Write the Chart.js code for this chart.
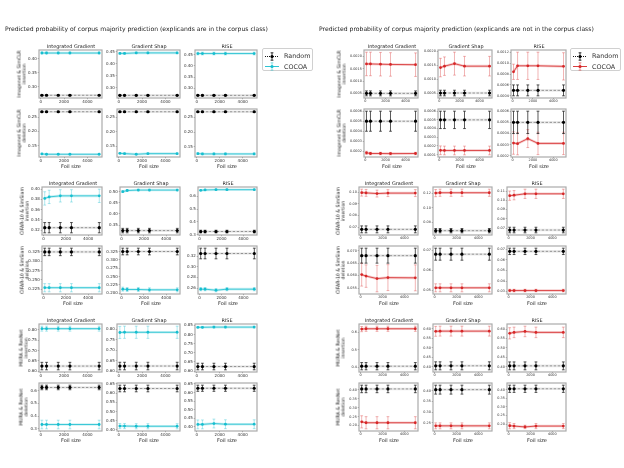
<!DOCTYPE html>
<html>
<head>
<meta charset="utf-8">
<script src="https://cdn.jsdelivr.net/npm/chart.js@4.4.1/dist/chart.umd.min.js"></script>
<style>
  html, body { margin: 0; padding: 0; background: #fff; }
  #page { position: relative; width: 624px; height: 468px; overflow: hidden; font-family: 'DejaVu Sans', sans-serif; color: #222; }
  #page canvas { position: absolute; }
  .txt { position: absolute; white-space: nowrap; line-height: 1; color: #222; will-change: transform; }
  .title { font-size: 6.1px; transform: translateY(-50%); }
  .coltitle { font-size: 4.9px; transform: translate(-50%, -50%); }
  .xlabel { font-size: 5px; transform: translate(-50%, -50%); }
  .ylabel { font-size: 4.7px; color: #111; text-align: center; line-height: 1.15; transform: translate(-50%, -50%) rotate(-90deg); }
  .legend { position: absolute; width: 51px; height: 23px; box-sizing: border-box; border: 0.8px solid #d0d0d0; border-radius: 2px; background: #fff; font-size: 6.4px; color: #333; will-change: transform; }
  .lrow { position: absolute; left: 1px; height: 9px; display: flex; align-items: center; }
  .lrow span { margin-left: 4px; color: #333; }
</style>
</head>
<body>
<div id="page"></div>
<script>
const foilSizes = [100, 500, 1500, 2500, 5000];
const xTicks = [0, 2000, 4000];
const methods = ['Integrated Gradient', 'Gradient Shap', 'RISE'];
const setups = ['Imagenet & SimCLR', 'CIFAR-10 & SimSiam', 'MURA & ResNet'];
const metrics = ['insertion', 'deletion'];
const seriesNames = ['Random', 'COCOA'];
const panelTitles = [
  'Predicted probability of corpus majority prediction (explicands are in the corpus class)',
  'Predicted probability of corpus majority prediction (explicands are not in the corpus class)'
];

// ---- explicands in the corpus class ----
const inImgRandom = [0.269, 0.269, 0.269, 0.269, 0.269];
const inImgRandomErr = [0.002, 0.002, 0.002, 0.002, 0.002];
const inImgInsCocoa = [
  [0.420, 0.420, 0.420, 0.420, 0.420],
  [0.443, 0.443, 0.445, 0.445, 0.445],
  [0.455, 0.455, 0.455, 0.455, 0.455]
];
const inImgInsCocoaErr = [
  [0.003, 0.003, 0.003, 0.003, 0.003],
  [0.003, 0.003, 0.003, 0.003, 0.003],
  [0.006, 0.006, 0.006, 0.006, 0.006]
];
const inImgInsSteps = [0.05, 0.05, 0.05];
const inImgDelCocoa = [
  [0.120, 0.119, 0.119, 0.119, 0.119],
  [0.126, 0.125, 0.123, 0.125, 0.125],
  [0.127, 0.126, 0.126, 0.126, 0.126]
];
const inImgDelCocoaErr = [
  [0.002, 0.002, 0.002, 0.002, 0.002],
  [0.002, 0.002, 0.002, 0.002, 0.002],
  [0.003, 0.003, 0.003, 0.003, 0.003]
];
const inImgDelSteps = [0.05, 0.05, 0.05];

const inCifarRandom = [0.325, 0.325, 0.325, 0.325, 0.325];
const inCifarRandomErr = [0.010, 0.010, 0.010, 0.010, 0.010];
const inCifarInsCocoa = [
  [0.382, 0.385, 0.387, 0.387, 0.387],
  [0.500, 0.505, 0.507, 0.507, 0.507],
  [0.645, 0.648, 0.650, 0.650, 0.650]
];
const inCifarInsCocoaErr = [
  [0.013, 0.013, 0.012, 0.012, 0.013],
  [0.004, 0.004, 0.004, 0.004, 0.004],
  [0.004, 0.004, 0.004, 0.004, 0.004]
];
const inCifarInsSteps = [0.02, 0.05, 0.1];
const inCifarDelCocoa = [
  [0.229, 0.229, 0.229, 0.229, 0.229],
  [0.212, 0.211, 0.211, 0.210, 0.210],
  [0.258, 0.258, 0.256, 0.258, 0.258]
];
const inCifarDelCocoaErr = [
  [0.011, 0.011, 0.011, 0.011, 0.011],
  [0.006, 0.006, 0.006, 0.006, 0.006],
  [0.003, 0.003, 0.003, 0.003, 0.003]
];
const inCifarDelSteps = [0.025, 0.025, 0.02];

const inMuraRandom = [0.625, 0.625, 0.625, 0.625, 0.625];
const inMuraRandomErr = [0.018, 0.018, 0.018, 0.018, 0.018];
const inMuraInsCocoa = [
  [0.805, 0.805, 0.805, 0.805, 0.805],
  [0.785, 0.786, 0.786, 0.786, 0.786],
  [0.840, 0.840, 0.841, 0.841, 0.841]
];
const inMuraInsCocoaErr = [
  [0.012, 0.012, 0.012, 0.012, 0.012],
  [0.029, 0.029, 0.029, 0.029, 0.029],
  [0.005, 0.005, 0.005, 0.005, 0.005]
];
const inMuraInsSteps = [0.05, 0.05, 0.05];
const inMuraDelCocoa = [
  [0.333, 0.333, 0.333, 0.333, 0.333],
  [0.421, 0.421, 0.420, 0.420, 0.420],
  [0.413, 0.413, 0.418, 0.414, 0.414]
];
const inMuraDelCocoaErr = [
  [0.034, 0.034, 0.034, 0.034, 0.034],
  [0.014, 0.014, 0.014, 0.014, 0.014],
  [0.026, 0.026, 0.026, 0.026, 0.026]
];
const inMuraDelSteps = [0.1, 0.05, 0.05];

// ---- explicands not in the corpus class ----
const outImgRandom = [0.0005, 0.0005, 0.0005, 0.0005, 0.0005];
const outImgRandomErr = [0.0001, 0.0001, 0.0001, 0.0001, 0.0001];
const outImgInsCocoa = [
  [0.00170, 0.00170, 0.00169, 0.00168, 0.00167],
  [0.00141, 0.00146, 0.00155, 0.00146, 0.00146],
  [0.00084, 0.00095, 0.00095, 0.00095, 0.00094]
];
const outImgInsCocoaErr = [
  [0.00048, 0.00048, 0.00048, 0.00048, 0.00048],
  [0.00033, 0.00033, 0.00041, 0.00035, 0.00035],
  [0.00014, 0.00025, 0.00025, 0.00025, 0.00025]
];
const outImgInsSteps = [0.0005, 0.0005, 0.0002];
const outImgDelCocoa = [
  [0.000185, 0.000178, 0.000178, 0.000177, 0.000178],
  [0.000150, 0.000148, 0.000148, 0.000148, 0.000148],
  [0.000315, 0.000310, 0.000355, 0.000312, 0.000312]
];
const outImgDelCocoaErr = [
  [0.000015, 0.000012, 0.000012, 0.000012, 0.000012],
  [0.00005, 0.00005, 0.00005, 0.00005, 0.00005],
  [0.0001, 0.0001, 0.00008, 0.0001, 0.0001]
];
const outImgDelSteps = [0.0001, 0.0001, 0.0001];

const outCifarRandom = [0.068, 0.068, 0.068, 0.068, 0.068];
const outCifarRandomErr = [0.003, 0.003, 0.003, 0.003, 0.003];
const outCifarInsCocoa = [
  [0.0998, 0.0996, 0.0990, 0.0994, 0.0994],
  [0.1205, 0.1210, 0.1210, 0.1210, 0.1210],
  [0.1050, 0.1055, 0.1070, 0.1070, 0.1070]
];
const outCifarInsCocoaErr = [
  [0.003, 0.003, 0.003, 0.003, 0.003],
  [0.005, 0.005, 0.005, 0.005, 0.005],
  [0.005, 0.005, 0.005, 0.005, 0.005]
];
const outCifarInsSteps = [0.01, 0.02, 0.01];
const outCifarDelCocoa = [
  [0.0604, 0.0598, 0.0588, 0.0592, 0.0591],
  [0.0512, 0.0512, 0.0512, 0.0512, 0.0512],
  [0.0310, 0.0310, 0.0310, 0.0310, 0.0310]
];
const outCifarDelCocoaErr = [
  [0.0046, 0.0045, 0.0053, 0.0052, 0.0052],
  [0.0020, 0.0020, 0.0020, 0.0020, 0.0020],
  [0.0012, 0.0012, 0.0012, 0.0012, 0.0012]
];
const outCifarDelSteps = [0.005, 0.01, 0.01];

const outMuraRandom = [0.405, 0.405, 0.405, 0.405, 0.405];
const outMuraRandomErr = [0.021, 0.021, 0.021, 0.021, 0.021];
const outMuraInsCocoa = [
  [0.620, 0.622, 0.622, 0.622, 0.622],
  [0.586, 0.587, 0.587, 0.587, 0.587],
  [0.578, 0.583, 0.588, 0.583, 0.583]
];
const outMuraInsCocoaErr = [
  [0.015, 0.015, 0.015, 0.015, 0.015],
  [0.026, 0.026, 0.026, 0.026, 0.026],
  [0.030, 0.028, 0.028, 0.028, 0.028]
];
const outMuraInsSteps = [0.1, 0.05, 0.05];
const outMuraDelCocoa = [
  [0.221, 0.216, 0.216, 0.216, 0.216],
  [0.235, 0.235, 0.235, 0.235, 0.235],
  [0.190, 0.188, 0.183, 0.188, 0.188]
];
const outMuraDelCocoaErr = [
  [0.034, 0.034, 0.034, 0.034, 0.034],
  [0.014, 0.014, 0.014, 0.014, 0.014],
  [0.018, 0.015, 0.010, 0.015, 0.015]
];
const outMuraDelSteps = [0.05, 0.05, 0.05];

// rows per panel: [setup][metric] -> random, randomErr, cocoa, cocoaErr, steps
const inRows = [
  [[inImgRandom, inImgRandomErr, inImgInsCocoa, inImgInsCocoaErr, inImgInsSteps],
   [inImgRandom, inImgRandomErr, inImgDelCocoa, inImgDelCocoaErr, inImgDelSteps]],
  [[inCifarRandom, inCifarRandomErr, inCifarInsCocoa, inCifarInsCocoaErr, inCifarInsSteps],
   [inCifarRandom, inCifarRandomErr, inCifarDelCocoa, inCifarDelCocoaErr, inCifarDelSteps]],
  [[inMuraRandom, inMuraRandomErr, inMuraInsCocoa, inMuraInsCocoaErr, inMuraInsSteps],
   [inMuraRandom, inMuraRandomErr, inMuraDelCocoa, inMuraDelCocoaErr, inMuraDelSteps]]
];
const outRows = [
  [[outImgRandom, outImgRandomErr, outImgInsCocoa, outImgInsCocoaErr, outImgInsSteps],
   [outImgRandom, outImgRandomErr, outImgDelCocoa, outImgDelCocoaErr, outImgDelSteps]],
  [[outCifarRandom, outCifarRandomErr, outCifarInsCocoa, outCifarInsCocoaErr, outCifarInsSteps],
   [outCifarRandom, outCifarRandomErr, outCifarDelCocoa, outCifarDelCocoaErr, outCifarDelSteps]],
  [[outMuraRandom, outMuraRandomErr, outMuraInsCocoa, outMuraInsCocoaErr, outMuraInsSteps],
   [outMuraRandom, outMuraRandomErr, outMuraDelCocoa, outMuraDelCocoaErr, outMuraDelSteps]]
];

// layout of the two panels (pixels)
const groupTops = [49, 186, 323];
const rowOffset = 59, plotH = 49;
const panels = [
  { rows: inRows, color: [23, 190, 207], titleX: 5, legendX: 262, tickSize: 4.0,
    lefts: [[39, 117, 195], [42, 120, 198], [39, 117, 195]], rights: [103, 181, 258],
    ylabelX: [22, 25, 24] },
  { rows: outRows, color: [214, 39, 40], titleX: 319, legendX: 570, tickSize: 3.4,
    lefts: [[364, 438, 511], [359, 433, 507], [359, 433, 507]], rights: [419, 493, 567],
    ylabelX: [342, 341, 341] }
];

const page = document.getElementById('page');

function rgba(c, a) { return `rgba(${c[0]}, ${c[1]}, ${c[2]}, ${a})`; }
function padRange(lo, hi) { const m = (hi - lo) * 0.05; return [lo - m, hi + m]; }
function decimalsOf(step) { const s = String(step); return s.includes('.') ? s.split('.')[1].length : 0; }
function points(values) { return values.map((v, i) => ({ x: foilSizes[i], y: v })); }

function addText(cls, text, x, y) {
  const el = document.createElement('div');
  el.className = 'txt ' + cls;
  el.innerHTML = text;
  el.style.left = x + 'px';
  el.style.top = y + 'px';
  page.appendChild(el);
  return el;
}

const errorBars = {
  id: 'errorBars',
  beforeDatasetsDraw(chart) {
    const ctx = chart.ctx, ys = chart.scales.y, cap = 1.4;
    chart.data.datasets.forEach((ds, i) => {
      if (!ds.errors) return;
      const meta = chart.getDatasetMeta(i);
      ctx.save();
      ctx.strokeStyle = ds.errColor;
      ctx.lineWidth = 0.7;
      meta.data.forEach((pt, j) => {
        const v = ds.data[j].y, e = ds.errors[j];
        const top = ys.getPixelForValue(v + e), bot = ys.getPixelForValue(v - e);
        ctx.beginPath();
        ctx.moveTo(pt.x, top); ctx.lineTo(pt.x, bot);
        ctx.moveTo(pt.x - cap, top); ctx.lineTo(pt.x + cap, top);
        ctx.moveTo(pt.x - cap, bot); ctx.lineTo(pt.x + cap, bot);
        ctx.stroke();
      });
      ctx.restore();
    });
  }
};

const frame = {
  id: 'frame',
  afterDraw(chart) {
    const a = chart.chartArea, ctx = chart.ctx;
    ctx.save();
    ctx.strokeStyle = '#ababab';
    ctx.lineWidth = 1.2;
    ctx.strokeRect(a.left, a.top, a.right - a.left, a.bottom - a.top);
    ctx.restore();
  }
};

function addSubplot(left, top, width, random, randomErr, cocoa, cocoaErr, step, color, tickSize) {
  const yw = 26, pad = 3, xh = 8;
  const cw = width + yw + pad, ch = plotH + pad + xh;
  const canvas = document.createElement('canvas');
  canvas.style.left = (left - yw) + 'px';
  canvas.style.top = (top - pad) + 'px';
  canvas.style.width = cw + 'px';
  canvas.style.height = ch + 'px';
  canvas.width = cw; canvas.height = ch;
  page.appendChild(canvas);

  const lows = [], highs = [];
  random.forEach((v, i) => { lows.push(v - randomErr[i]); highs.push(v + randomErr[i]); });
  cocoa.forEach((v, i) => { lows.push(v - cocoaErr[i]); highs.push(v + cocoaErr[i]); });
  const [yMin, yMax] = padRange(Math.min(...lows), Math.max(...highs));
  const [xMin, xMax] = padRange(foilSizes[0], foilSizes[foilSizes.length - 1]);
  const dec = decimalsOf(step);

  const fitScale = (size) => (s) => {
    if (s.isHorizontal()) s.height = size; else s.width = size;
    s.paddingLeft = s.paddingRight = s.paddingTop = s.paddingBottom = 0;
  };
  const tickFont = { family: 'DejaVu Sans', size: tickSize };

  new Chart(canvas, {
    type: 'line',
    data: {
      datasets: [
        { label: 'COCOA', data: points(cocoa), order: 0, borderColor: rgba(color, 1), borderWidth: 0.8,
          pointRadius: 1.4, pointBorderWidth: 0, pointBackgroundColor: rgba(color, 1),
          errors: cocoaErr, errColor: rgba(color, 0.5) },
        { label: 'Random', data: points(random), order: 1, borderColor: 'rgba(0, 0, 0, 0.55)', borderWidth: 0.7,
          borderDash: [2.5, 1.5], pointRadius: 1.6, pointBorderWidth: 0, pointBackgroundColor: '#000',
          errors: randomErr, errColor: '#111' },
        { label: 'COCOA band', data: points(cocoa), order: 2, borderColor: rgba(color, 0.22),
          borderWidth: 2.6, pointRadius: 0 },
        { label: 'Random band', data: points(random), order: 3, borderColor: 'rgba(0, 0, 0, 0.08)',
          borderWidth: 2.6, pointRadius: 0 }
      ]
    },
    options: {
      responsive: false,
      animation: false,
      events: [],
      layout: { padding: { top: pad, right: pad, left: 0, bottom: 0 } },
      plugins: { legend: { display: false }, tooltip: { enabled: false } },
      scales: {
        x: {
          type: 'linear', min: xMin, max: xMax,
          afterBuildTicks: (s) => { s.ticks = xTicks.map(v => ({ value: v })); },
          afterFit: fitScale(xh),
          ticks: { font: tickFont, color: '#333', padding: 0, maxRotation: 0, autoSkip: false,
                   callback: (v) => String(v) },
          grid: { drawOnChartArea: false, tickLength: 1.2, color: '#555', lineWidth: 0.6 },
          border: { display: false }
        },
        y: {
          type: 'linear', min: yMin, max: yMax,
          afterBuildTicks: (s) => {
            const ticks = [];
            for (let k = Math.ceil(yMin / step - 1e-9); k <= Math.floor(yMax / step + 1e-9); k++) {
              ticks.push({ value: parseFloat((k * step).toFixed(dec + 2)) });
            }
            s.ticks = ticks;
          },
          afterFit: fitScale(yw),
          ticks: { font: tickFont, color: '#333', padding: 1, autoSkip: false,
                   callback: (v) => Number(v).toFixed(dec) },
          grid: { drawOnChartArea: false, tickLength: 1.2, color: '#555', lineWidth: 0.6 },
          border: { display: false }
        }
      }
    },
    plugins: [errorBars, frame]
  });
}

function legendHandle(lineColor, dash, markerColor, errColor) {
  return `<svg width="16" height="9" viewBox="0 0 16 9">
    <line x1="1" y1="4.5" x2="15" y2="4.5" stroke="${lineColor}" stroke-width="0.9" ${dash ? 'stroke-dasharray="1,1"' : ''}/>
    <path d="M8 0.8 V8.2 M6.6 0.8 H9.4 M6.6 8.2 H9.4" stroke="${errColor}" stroke-width="0.8" fill="none"/>
    <circle cx="8" cy="4.5" r="1.6" fill="${markerColor}"/>
  </svg>`;
}

panels.forEach((panel, p) => {
  addText('title', panelTitles[p], panel.titleX, 29);

  const legend = document.createElement('div');
  legend.className = 'legend';
  legend.style.left = panel.legendX + 'px';
  legend.style.top = '48px';
  legend.innerHTML =
    `<div class="lrow" style="top:2.5px">${legendHandle('#000', true, '#000', '#000')}<span>${seriesNames[0]}</span></div>` +
    `<div class="lrow" style="top:13px">${legendHandle(rgba(panel.color, 1), false, rgba(panel.color, 1), rgba(panel.color, 0.6))}<span>${seriesNames[1]}</span></div>`;
  page.appendChild(legend);

  panel.rows.forEach((setupRows, g) => {
    setupRows.forEach((row, r) => {
      const [random, randomErr, cocoa, cocoaErr, steps] = row;
      const top = groupTops[g] + r * rowOffset;
      addText('ylabel', setups[g] + '<br>' + metrics[r], panel.ylabelX[g], top + plotH / 2);
      methods.forEach((m, c) => {
        const left = panel.lefts[g][c], width = panel.rights[c] - left;
        addSubplot(left, top, width, random, randomErr, cocoa[c], cocoaErr[c], steps[c], panel.color, panel.tickSize);
        if (r === 0) addText('coltitle', m, left + width / 2, top - 3.5);
        if (r === 1) addText('xlabel', 'Foil size', left + width / 2, top + plotH + 8.5);
      });
    });
  });
});
</script>
</body>
</html>
